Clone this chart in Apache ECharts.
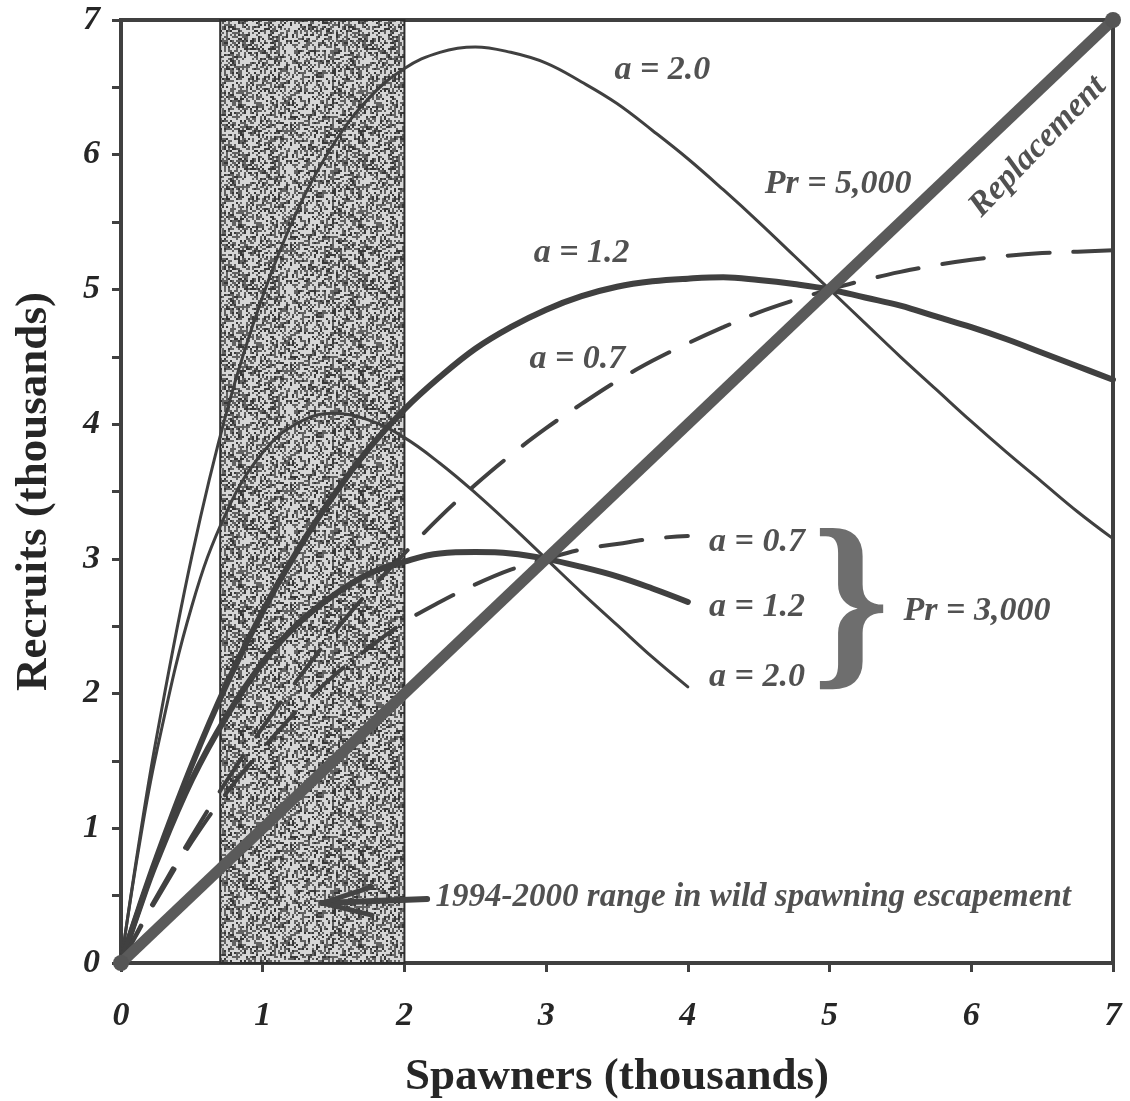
<!DOCTYPE html>
<html>
<head>
<meta charset="utf-8">
<style>
  html, body { margin: 0; padding: 0; background: #fff; }
  #chart { width: 1130px; height: 1101px; }
</style>
<script src="https://cdn.jsdelivr.net/npm/echarts@6/dist/echarts.min.js"></script>
</head>
<body>
<div id="chart"></div>
<script>
// Spawner levels (thousands) at which the recruit curves are read
const spawnersPr5 = [0, 0.125, 0.25, 0.5, 0.75, 1, 1.25, 1.5, 1.75, 2, 2.25, 2.5, 2.75, 3, 3.25, 3.5, 3.75, 4, 4.25, 4.5, 4.75, 5, 5.25, 5.5, 5.75, 6, 6.25, 6.5, 6.75, 7];
const spawnersPr3 = [0, 0.125, 0.25, 0.5, 0.75, 1, 1.25, 1.5, 1.75, 2, 2.25, 2.5, 2.75, 3, 3.25, 3.5, 3.75, 4];

// Recruits (thousands), Pr = 5,000
const recruitsPr5a20 = [0, 0.88, 1.67, 3.02, 4.11, 4.95, 5.60, 6.08, 6.42, 6.64, 6.76, 6.80, 6.76, 6.68, 6.54, 6.38, 6.18, 5.97, 5.74, 5.50, 5.25, 5.00, 4.75, 4.50, 4.26, 4.02, 3.79, 3.57, 3.35, 3.15];
const recruitsPr5a12 = [0, 0.40, 0.78, 1.47, 2.08, 2.61, 3.07, 3.47, 3.82, 4.11, 4.35, 4.56, 4.72, 4.85, 4.95, 5.02, 5.06, 5.08, 5.09, 5.07, 5.04, 5.00, 4.94, 4.88, 4.80, 4.72, 4.63, 4.53, 4.43, 4.33];
const recruitsPr5a07 = [0, 0.25, 0.49, 0.94, 1.36, 1.75, 2.11, 2.45, 2.76, 3.04, 3.31, 3.55, 3.77, 3.97, 4.15, 4.32, 4.47, 4.60, 4.72, 4.83, 4.92, 5.00, 5.07, 5.13, 5.18, 5.22, 5.25, 5.27, 5.28, 5.29];

// Recruits (thousands), Pr = 3,000
const recruitsPr3a20 = [0, 0.85, 1.56, 2.65, 3.36, 3.79, 4.01, 4.08, 4.03, 3.90, 3.71, 3.49, 3.25, 3.00, 2.75, 2.51, 2.27, 2.05];
const recruitsPr3a12 = [0, 0.39, 0.75, 1.36, 1.84, 2.23, 2.52, 2.73, 2.89, 2.98, 3.04, 3.05, 3.04, 3.00, 2.94, 2.87, 2.78, 2.68];
const recruitsPr3a07 = [0, 0.24, 0.47, 0.90, 1.27, 1.59, 1.88, 2.13, 2.34, 2.53, 2.68, 2.81, 2.92, 3.00, 3.07, 3.11, 3.15, 3.17];

// Replacement line (recruits = spawners)
const replacementS = [0, 7];
const replacementR = [0, 7];

// 1994-2000 range in wild spawning escapement (thousands)
const escapementRange = [0.7, 2.0];

// Axis ticks
const xTicks = [0, 1, 2, 3, 4, 5, 6, 7];
const yTicks = [0, 1, 2, 3, 4, 5, 6, 7];

const pair = (xs, ys) => xs.map((x, i) => [x, ys[i]]);

// Stippled fill for the escapement band
function stipple() {
  const c = document.createElement('canvas');
  c.width = 120; c.height = 120;
  const g = c.getContext('2d');
  g.fillStyle = '#d6d6d6';
  g.fillRect(0, 0, 120, 120);
  for (let i = 0; i < 60; i++) {
    for (let j = 0; j < 60; j++) {
      const h = Math.abs(Math.sin(i * 12.9898 + j * 78.233) * 43758.5453) % 1;
      if (h < 0.46) {
        g.fillStyle = h < 0.16 ? '#383838' : '#626262';
        g.fillRect(i * 2, j * 2, 2, 2);
      }
    }
  }
  return c;
}

const FONT = '"Liberation Serif", "Times New Roman", serif';
const INK = '#404040';
const TXT = '#262626';

const chart = echarts.init(document.getElementById('chart'), null, { renderer: 'canvas' });

function curve(name, xs, ys, width, dashed) {
  return {
    name, type: 'line', data: pair(xs, ys), smooth: 0.4, showSymbol: false, symbol: 'none',
    z: 5,
    lineStyle: { color: INK, width, type: dashed ? [42, 24] : 'solid', cap: 'round' },
    silent: true
  };
}

function note(x, y, text, extra) {
  return {
    value: [x, y],
    label: Object.assign({
      show: true, formatter: text, position: 'inside',
      fontFamily: FONT, fontStyle: 'italic', fontWeight: 'bold', fontSize: 34, color: TXT
    }, extra || {})
  };
}

const option = {
  animation: false,
  backgroundColor: '#fff',
  grid: {
    left: 121, right: 17, top: 20, bottom: 138,
    outerBoundsMode: 'none', containLabel: false,
    show: true, borderColor: INK, borderWidth: 4
  },
  xAxis: {
    type: 'value', min: 0, max: 7, interval: 1,
    name: 'Spawners (thousands)', nameLocation: 'middle', nameGap: 92,
    nameTextStyle: { fontFamily: FONT, fontWeight: 'bold', fontSize: 45, color: TXT },
    axisLine: { show: true, lineStyle: { color: INK, width: 4 } },
    axisTick: { show: true, length: 9, lineStyle: { color: INK, width: 3 } },
    splitLine: { show: false },
    axisLabel: {
      margin: 36, fontFamily: FONT, fontStyle: 'italic', fontWeight: 'bold', fontSize: 34, color: TXT,
      formatter: v => xTicks.includes(v) ? String(v) : ''
    }
  },
  yAxis: {
    type: 'value', min: 0, max: 7, interval: 0.5,
    name: 'Recruits (thousands)', nameLocation: 'middle', nameGap: 64,
    nameTextStyle: { fontFamily: FONT, fontWeight: 'bold', fontSize: 45, color: TXT },
    axisLine: { show: true, lineStyle: { color: INK, width: 4 } },
    axisTick: { show: true, length: 9, lineStyle: { color: INK, width: 3 } },
    splitLine: { show: false },
    axisLabel: {
      margin: 21, fontFamily: FONT, fontStyle: 'italic', fontWeight: 'bold', fontSize: 34, color: TXT,
      formatter: v => yTicks.includes(v) ? String(v) : ''
    }
  },
  series: [
    {
      name: 'escapement', type: 'line', data: [], z: 1, silent: true,
      markArea: {
        silent: true,
        itemStyle: { color: { image: stipple(), repeat: 'repeat' }, borderColor: '#2e2e2e', borderWidth: 2 },
        data: [[{ xAxis: escapementRange[0], yAxis: 0 }, { xAxis: escapementRange[1], yAxis: 7 }]]
      }
    },
    curve('Pr5 a=2.0', spawnersPr5, recruitsPr5a20, 3, false),
    curve('Pr5 a=1.2', spawnersPr5, recruitsPr5a12, 6, false),
    curve('Pr5 a=0.7', spawnersPr5, recruitsPr5a07, 4, true),
    curve('Pr3 a=2.0', spawnersPr3, recruitsPr3a20, 3, false),
    curve('Pr3 a=1.2', spawnersPr3, recruitsPr3a12, 6, false),
    curve('Pr3 a=0.7', spawnersPr3, recruitsPr3a07, 4, true),
    {
      name: 'Replacement', type: 'line', z: 6, silent: true,
      data: pair(replacementS, replacementR),
      symbol: 'circle', symbolSize: 16, showSymbol: true,
      itemStyle: { color: '#555' },
      lineStyle: { color: '#5a5a5a', width: 11 },
      // arrow pointing into the escapement band: shaft and two barbs
      markLine: {
        silent: true, symbol: ['none', 'none'],
        lineStyle: { color: '#444', width: 6, type: 'solid', cap: 'round' },
        label: { show: false },
        data: [
          [{ coord: [2.16, 0.475] }, { coord: [1.42, 0.445] }],
          [{ coord: [1.42, 0.445], lineStyle: { width: 5 } }, { coord: [1.77, 0.565] }],
          [{ coord: [1.42, 0.445], lineStyle: { width: 5 } }, { coord: [1.77, 0.355] }]
        ]
      }
    },
    {
      name: 'notes', type: 'scatter', symbolSize: 0, z: 10, silent: true,
      data: [
        note(3.82, 6.63, 'a = 2.0'),
        note(5.06, 5.78, 'Pr = 5,000'),
        note(6.47, 6.06, 'Replacement', { rotate: 46 }),
        note(3.25, 5.27, 'a = 1.2'),
        note(3.22, 4.48, 'a = 0.7'),
        note(4.15, 3.12, 'a = 0.7', { position: 'right', distance: 0 }),
        note(4.15, 2.64, 'a = 1.2', { position: 'right', distance: 0 }),
        note(4.15, 2.12, 'a = 2.0', { position: 'right', distance: 0 }),
        note(5.15, 2.6, '}', { fontFamily: FONT, fontStyle: 'normal', fontWeight: 'bold', fontSize: 196, color: '#4a4a4a' }),
        note(6.04, 2.61, 'Pr = 3,000'),
        note(2.22, 0.49, '1994-2000 range in wild spawning escapement', { position: 'right', distance: 0, fontSize: 33 })
      ]
    }
  ]
};

chart.setOption(option);
</script>
</body>
</html>
